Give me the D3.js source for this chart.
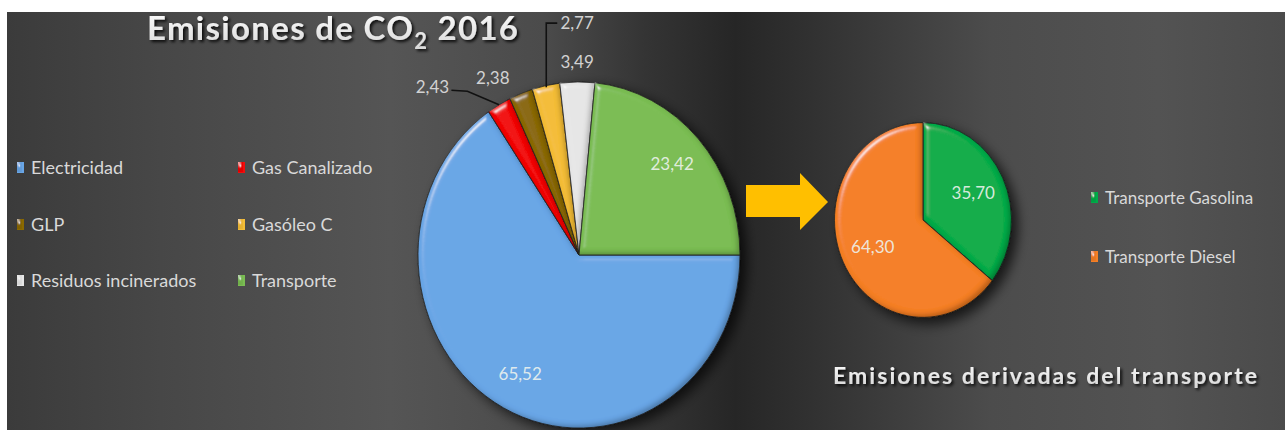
<!DOCTYPE html>
<html>
<head>
<meta charset="utf-8">
<script src="https://cdn.jsdelivr.net/npm/d3@7"></script>
<style>
  html, body { margin: 0; padding: 0; background: #fff; }
  svg { display: block; }
  text { font-family: Lato, "Open Sans", sans-serif; }
</style>
</head>
<body>
<div id="chart"></div>
<script>
// datos
const categories = ["Electricidad", "Gas Canalizado", "GLP", "Gasóleo C", "Residuos incinerados", "Transporte"];
const values = [65.52, 2.43, 2.38, 2.77, 3.49, 23.42];
const colors = ["#69a6e6", "#f20a0a", "#8a6905", "#f4bd38", "#e6e6e6", "#7abd52"];

const subCategories = ["Transporte Gasolina", "Transporte Diesel"];
const subValues = [35.70, 64.30];
const subColors = ["#03ac49", "#f57f28"];

const title = "Emisiones de CO";
const subTitle = "Emisiones derivadas del transporte";

const width = 1285, height = 430;
const fmt = d3.formatLocale({decimal: ",", thousands: ".", grouping: [3], currency: ["", ""]}).format(".2f");

const svg = d3.select('#chart').append('svg')
    .attr('width', width)
    .attr('height', height);

const defs = svg.append('defs');

// fondo
const bg = defs.append('linearGradient').attr('id', 'bg')
    .attr('x1', 0).attr('y1', 0).attr('x2', 1).attr('y2', 0);
[[0, '#3b3b3b'], [0.12, '#474747'], [0.3, '#555555'], [0.42, '#4b4b4b'],
 [0.5, '#343434'], [0.57, '#262626'], [0.64, '#333333'], [0.77, '#4c4c4c'],
 [0.9, '#535353'], [1, '#4b4b4b']]
  .forEach(([o, c]) => bg.append('stop').attr('offset', o).attr('stop-color', c));

svg.append('rect')
    .attr('x', 7).attr('y', 12)
    .attr('width', width - 7).attr('height', height - 12)
    .attr('fill', 'url(#bg)');

// bisel de las porciones
const bevel = defs.append('filter').attr('id', 'bevel')
    .attr('x', '-10%').attr('y', '-10%').attr('width', '120%').attr('height', '120%');
bevel.append('feGaussianBlur').attr('in', 'SourceAlpha').attr('stdDeviation', 3).attr('result', 'blur');
const spec = bevel.append('feSpecularLighting').attr('in', 'blur')
    .attr('surfaceScale', 4).attr('specularConstant', 0.65).attr('specularExponent', 45)
    .attr('lighting-color', '#ffffff').attr('result', 'spec');
spec.append('feDistantLight').attr('azimuth', 225).attr('elevation', 40);
bevel.append('feComposite').attr('in', 'spec').attr('in2', 'SourceAlpha').attr('operator', 'in').attr('result', 'specIn');
// sombra interior abajo a la derecha
bevel.append('feComponentTransfer').attr('in', 'SourceAlpha').attr('result', 'inv')
    .append('feFuncA').attr('type', 'table').attr('tableValues', '1 0');
bevel.append('feGaussianBlur').attr('in', 'inv').attr('stdDeviation', 2.5).attr('result', 'invBlur');
bevel.append('feOffset').attr('in', 'invBlur').attr('dx', -3).attr('dy', -3).attr('result', 'invOff');
bevel.append('feFlood').attr('flood-color', '#000').attr('flood-opacity', 0.5).attr('result', 'dark');
bevel.append('feComposite').attr('in', 'dark').attr('in2', 'invOff').attr('operator', 'in').attr('result', 'shade');
bevel.append('feComposite').attr('in', 'shade').attr('in2', 'SourceAlpha').attr('operator', 'in').attr('result', 'inner');
const bm = bevel.append('feMerge');
bm.append('feMergeNode').attr('in', 'SourceGraphic');
bm.append('feMergeNode').attr('in', 'inner');
bm.append('feMergeNode').attr('in', 'specIn');

// sombra exterior
const shadow = defs.append('filter').attr('id', 'shadow')
    .attr('x', '-20%').attr('y', '-20%').attr('width', '150%').attr('height', '150%');
shadow.append('feGaussianBlur').attr('in', 'SourceAlpha').attr('stdDeviation', 6).attr('result', 'b');
shadow.append('feOffset').attr('in', 'b').attr('dx', 6).attr('dy', 5).attr('result', 'o');
shadow.append('feComponentTransfer').attr('in', 'o').attr('result', 'oa')
    .append('feFuncA').attr('type', 'linear').attr('slope', 0.7);
const sm = shadow.append('feMerge');
sm.append('feMergeNode').attr('in', 'oa');
sm.append('feMergeNode').attr('in', 'SourceGraphic');

// sombra de los títulos
const tshadow = defs.append('filter').attr('id', 'tshadow')
    .attr('x', '-5%').attr('y', '-30%').attr('width', '110%').attr('height', '160%');
tshadow.append('feDropShadow').attr('dx', 2).attr('dy', 2).attr('stdDeviation', 1.5)
    .attr('flood-color', '#000').attr('flood-opacity', 0.85);

const tgrad = defs.append('linearGradient').attr('id', 'tgrad')
    .attr('x1', 0).attr('y1', 0).attr('x2', 0).attr('y2', 1);
tgrad.append('stop').attr('offset', 0).attr('stop-color', '#ffffff');
tgrad.append('stop').attr('offset', 1).attr('stop-color', '#d4d4d4');

function fitWidth(sel, target) {
  const n = sel.text().length;
  const w = sel.node().getComputedTextLength();
  sel.attr('letter-spacing', (target - w) / (n - 1));
}

function drawPie(cx, cy, r, sy, vals, cols) {
  const pie = d3.pie().sort(null).startAngle(Math.PI / 2).endAngle(Math.PI / 2 + 2 * Math.PI);
  return drawArcs(pie, cx, cy, r, sy, vals, cols);
}

function drawArcs(pie, cx, cy, r, sy, vals, cols) {
  const arcs = pie(vals);
  const arc = d3.arc().innerRadius(0).outerRadius(r);
  const g = svg.append('g')
      .attr('transform', `translate(${cx},${cy}) scale(1,${sy})`)
      .attr('filter', 'url(#shadow)');
  g.selectAll('path')
      .data(arcs)
      .join('path')
      .attr('d', arc)
      .attr('fill', (d, i) => cols[i])
      .attr('stroke', '#2b2b2b')
      .attr('stroke-width', 0.8)
      .attr('filter', 'url(#bevel)');
  const pos = (a, k) => [cx + r * k * Math.sin(a), cy - r * sy * k * Math.cos(a)];
  return {arcs, pos};
}

// --- gráfico principal ---
const main = drawPie(579, 255, 161, 1.075, values, colors);
const mid = d => (d.startAngle + d.endAngle) / 2;
const deg = Math.PI / 180;

// etiquetas fuera de la tarta (ángulo, radio relativo)
const outLabels = {
  "Gas Canalizado": {a: -43.2, k: 1.33},
  "GLP": {a: -27.6, k: 1.155},
  "Gasóleo C": {a: -0.5, k: 1.34},
  "Residuos incinerados": {a: -0.6, k: 1.115}
};

main.arcs.forEach((d, i) => {
  const o = outLabels[categories[i]];
  const [x, y] = o ? main.pos(o.a * deg, o.k) : main.pos(mid(d), 0.78);
  svg.append('text')
      .attr('x', x).attr('y', y).attr('dy', '0.35em')
      .attr('text-anchor', 'middle')
      .attr('font-size', 17)
      .attr('fill', o ? '#d2d2d2' : '#eef3ee')
      .attr('fill-opacity', o ? 1 : 0.9)
      .text(fmt(values[i]));
});

// líneas guía
const leader = d3.line();
{
  const gas = main.arcs[1], gaso = main.arcs[3];
  const [lx, ly] = main.pos(outLabels["Gas Canalizado"].a * deg, outLabels["Gas Canalizado"].k);
  const e1 = main.pos(mid(gas), 1.0);
  svg.append('path')
      .attr('d', leader([[lx + 19, ly + 3], [lx + 35, ly + 4], e1]))
      .attr('fill', 'none').attr('stroke', '#111').attr('stroke-width', 1.6);
  const [gx, gy] = main.pos(outLabels["Gasóleo C"].a * deg, outLabels["Gasóleo C"].k);
  const e2 = main.pos(mid(gaso), 0.99);
  svg.append('path')
      .attr('d', leader([e2, [e2[0], gy], [e2[0] + 11, gy]]))
      .attr('fill', 'none').attr('stroke', '#111').attr('stroke-width', 1.6);
}

// --- flecha ---
const arrow = d3.path();
arrow.moveTo(746, 185); arrow.lineTo(800, 185); arrow.lineTo(800, 173);
arrow.lineTo(828, 202); arrow.lineTo(800, 230); arrow.lineTo(800, 217);
arrow.lineTo(746, 217); arrow.closePath();
svg.append('path').attr('d', arrow.toString()).attr('fill', '#ffbf00');

// --- gráfico del transporte ---
const subPie = d3.pie().sort(null).startAngle(0).endAngle(2 * Math.PI);
const sub = drawArcs(subPie, 923, 220, 88.5, 1.10, subValues, subColors);
sub.arcs.forEach((d, i) => {
  const [x, y] = sub.pos(mid(d), 0.63);
  svg.append('text')
      .attr('x', x).attr('y', y).attr('dy', '0.35em')
      .attr('text-anchor', 'middle')
      .attr('font-size', 17)
      .attr('fill', '#eef3ee')
      .attr('fill-opacity', 0.9)
      .text(fmt(subValues[i]));
});

// --- leyendas ---
function legendItem(x, y, color, label, size) {
  svg.append('rect')
      .attr('x', x).attr('y', y - 12)
      .attr('width', 7).attr('height', 11)
      .attr('fill', color)
      .attr('filter', 'url(#bevel)');
  svg.append('text')
      .attr('x', x + 14).attr('y', y)
      .attr('font-size', size)
      .attr('fill', '#d9d9d9')
      .text(label);
}

const legendCols = [17, 238];
const legendRows = [174, 231, 287];
categories.forEach((c, i) => {
  legendItem(legendCols[i % 2], legendRows[Math.floor(i / 2)], colors[i], c, 18);
});

const subRows = [204, 263];
subCategories.forEach((c, i) => legendItem(1091, subRows[i], subColors[i], c, 17));

// --- títulos ---
const t = svg.append('text')
    .attr('x', 147).attr('y', 40)
    .attr('font-size', 33).attr('font-weight', 700)
    .attr('fill', 'url(#tgrad)')
    .attr('filter', 'url(#tshadow)');
t.append('tspan').text(title);
t.append('tspan').attr('font-size', 22).attr('dy', 9).text('2');
t.append('tspan').attr('dy', -9).text(' 2016');
fitWidth(t, 371);

const st = svg.append('text')
    .attr('x', 833).attr('y', 384)
    .attr('font-size', 23).attr('font-weight', 700)
    .attr('fill', 'url(#tgrad)')
    .attr('filter', 'url(#tshadow)')
    .text(subTitle);
fitWidth(st, 424);
</script>
</body>
</html>
